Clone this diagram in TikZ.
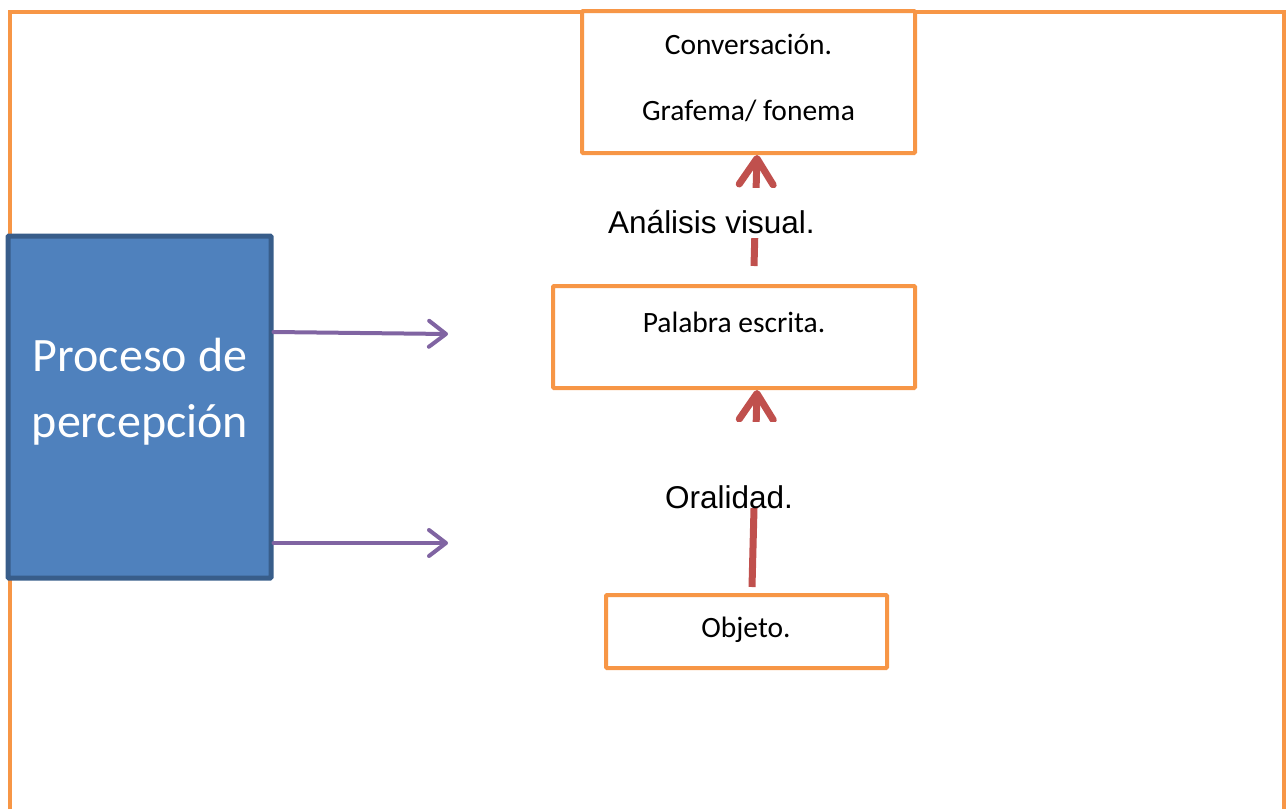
\documentclass[tikz,border=0pt]{standalone}
\usepackage{fontspec}
\setmainfont{Carlito}
\newfontfamily\arialf{Liberation Sans}
\usetikzlibrary{arrows.meta}
\definecolor{frameorange}{HTML}{F79646}
\definecolor{boxblue}{HTML}{4F81BD}
\definecolor{boxblueedge}{HTML}{385D8A}
\definecolor{arrowpurple}{HTML}{8064A2}
\definecolor{arrowred}{HTML}{C0504D}
\tikzset{
  obox/.style={draw=frameorange, line width=4pt, fill=white, rounded corners=1pt, inner sep=0pt},
  bbox/.style={draw=boxblueedge, line width=5pt, fill=boxblue, rounded corners=1pt, inner sep=0pt},
  ctext/.style={font=\fontsize{29.5}{66}\selectfont, align=center, inner sep=0pt},
  btext/.style={font=\fontsize{48}{66}\selectfont, text=white, align=center, inner sep=0pt},
  atext/.style={font=\arialf\fontsize{31.5}{36}\selectfont, fill=white, inner xsep=2pt, inner ysep=0pt, anchor=base},
  purplearrow/.style={draw=arrowpurple, line width=4pt, line cap=round, -{Straight Barb[length=17pt,width=26pt,line cap=round,line join=round]}},
  redarrow/.style={draw=arrowred, line width=7pt, -{Straight Barb[length=26pt,width=34pt,line cap=round,line join=round]}}
}
\begin{document}
\begin{tikzpicture}[x=1pt,y=-1pt]
\useasboundingbox (0,0) rectangle (1287,809);
% outer frame
\draw[frameorange, line width=4pt] (10,809) -- (10,12) -- (1284,12) -- (1284,809);
% boxes
\node[obox, minimum width=333pt, minimum height=142pt] (conv) at (748.5,82) {};
\node[ctext] (convt) at (748.5,78) {Conversación.\\Grafema/ fonema};
\node[obox, minimum width=362pt, minimum height=102pt] (pal) at (734,337) {};
\node[ctext] (palt) at (734,322) {Palabra escrita.};
\node[obox, minimum width=281pt, minimum height=73pt] (obj) at (746.5,631.5) {};
\node[ctext] (objt) at (746,630) {Objeto.};
\node[bbox, minimum width=263pt, minimum height=342pt] (perc) at (139.5,407) {};
\node[btext] (perct) at (140,392) {Proceso de\\percepción};
% red arrows
\coordinate (r1s) at (754,266);
\coordinate (r2s) at (752,587);
\draw[redarrow] (r1s) -- ([xshift=8.5pt]conv.south);
\draw[redarrow] (r2s) -- ([xshift=23pt]pal.south);
% labels over the red arrows
\node[atext, text height=45pt, text depth=5pt] (anal) at (711.5,233) {Análisis visual.};
\node[atext, text height=86pt, text depth=0pt] (oral) at (729,508) {Oralidad.};
% purple arrows
\coordinate (p1) at (448,334);
\coordinate (p2) at (448,543);
\draw[purplearrow] ([yshift=75pt]perc.east) -- (p1);
\draw[purplearrow] ([yshift=-136pt]perc.east) -- (p2);
\end{tikzpicture}
\end{document}
